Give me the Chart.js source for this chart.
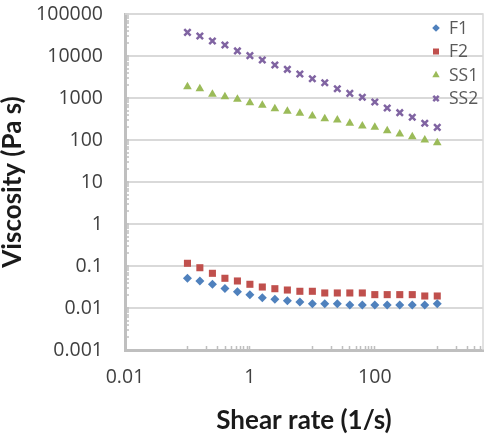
<!DOCTYPE html>
<html>
<head>
<meta charset="utf-8">
<script src="https://cdn.jsdelivr.net/npm/chart.js@4/dist/chart.umd.min.js"></script>
<style>
	html, body { margin: 0; padding: 0; background: #fff; }
	#wrap { width: 490px; height: 436px; }
</style>
</head>
<body>
<div id="wrap"><canvas id="viscChart" width="490" height="436"></canvas></div>
<script>
// shear rate (1/s), shared by all four samples
const shearRate = [0.1, 0.158, 0.251, 0.398, 0.631, 1, 1.58, 2.51, 3.98, 6.31, 10, 15.8, 25.1, 39.8, 63.1, 100, 158, 251, 398, 631, 1000];

// viscosity (Pa s)
const F1 = [0.051, 0.044, 0.037, 0.029, 0.0244, 0.0208, 0.0176, 0.0161, 0.0149, 0.0139, 0.0127, 0.0127, 0.0127, 0.0118, 0.0118, 0.0118, 0.0118, 0.0118, 0.0118, 0.0118, 0.0127];
const F2 = [0.116, 0.091, 0.067, 0.051, 0.044, 0.0367, 0.0316, 0.0288, 0.0268, 0.025, 0.025, 0.0228, 0.0228, 0.0228, 0.0228, 0.0208, 0.0208, 0.0208, 0.0208, 0.0193, 0.0193];
const SS1 = [1860, 1660, 1220, 1070, 930, 773, 670, 556, 482, 432, 373, 321, 299, 250, 215, 200, 166, 139, 120, 100, 86];
const SS2 = [36600, 29900, 22700, 18300, 13200, 10200, 8030, 6110, 4820, 3730, 2880, 2310, 1660, 1290, 1040, 803, 578, 447, 347, 250, 200];

const seriesNames = ['F1', 'F2', 'SS1', 'SS2'];

// axis ticks (x axis is log base 100, as in the original)
const xMajorTicks = [0.01, 1, 100];
const xTickLabels = ['0.01', '1', '100'];
const xMinorTicks = [0.1, 0.2, 0.3, 0.4, 0.5, 0.6, 0.7, 0.8, 0.9, 10, 20, 30, 40, 50, 60, 70, 80, 90, 1000, 2000, 3000, 4000, 5000];
const yMajorTicks = [0.001, 0.01, 0.1, 1, 10, 100, 1000, 10000, 100000];
const yTickLabels = ['0.001', '0.01', '0.1', '1', '10', '100', '1000', '10000', '100000'];

(function(){
	const FONT = '"Open Sans", Lato, sans-serif';
	const TITLE_FONT = 'Lato, "Open Sans", sans-serif';
	const GRID = '#D9D9D9';
	const AXIS = '#BFBFBF';

	function pts(ys){
		return ys.map((y, i) => ({x: shearRate[i], y: y}));
	}

	function isMajor(list, v){
		return list.some(m => Math.abs(m - v) / m < 1e-6);
	}

	const yMinorTicks = [];
	yMajorTicks.slice(0, -1).forEach(m => { for(let k=2; k<=9; k++) yMinorTicks.push(m * k); });

	// legend sits inside the plot area, top right
	const insideLegend = {
		id: 'insideLegend',
		afterDatasetsDraw(chart){
			const ctx = chart.ctx;
			const area = chart.chartArea;
			ctx.save();
			// plot area frame (top/right)
			ctx.strokeStyle = GRID;
			ctx.lineWidth = 1.5;
			ctx.beginPath();
			ctx.moveTo(area.left, area.top);
			ctx.lineTo(area.right, area.top);
			ctx.lineTo(area.right, area.bottom);
			ctx.stroke();
			chart.data.datasets.forEach((ds, i) => {
				const y = area.top + 14 + i * 23.5;
				const x = area.right - 47;
				ctx.fillStyle = ds.backgroundColor;
				ctx.strokeStyle = ds.borderColor;
				ctx.lineWidth = ds.borderWidth;
				Chart.helpers.drawPoint(ctx, {pointStyle: ds.pointStyle, radius: ds.pointRadius * 0.85, borderWidth: ds.borderWidth, rotation: 0}, x, y);
				ctx.fillStyle = '#595959';
				ctx.font = '17.5px ' + FONT;
				ctx.textAlign = 'left';
				ctx.textBaseline = 'middle';
				ctx.fillText(ds.label, x + 13, y + 1);
			});
			ctx.restore();
		}
	};

	const ctx = document.getElementById('viscChart').getContext('2d');
	new Chart(ctx, {
		type: 'scatter',
		data: {
			datasets: [
				{ label: seriesNames[0], data: pts(F1), pointStyle: 'rectRot', pointRadius: 4.5, backgroundColor: '#4F81BD', borderColor: '#4F81BD', borderWidth: 0 },
				{ label: seriesNames[1], data: pts(F2), pointStyle: 'rect', pointRadius: 5, backgroundColor: '#C0504D', borderColor: '#C0504D', borderWidth: 0 },
				{ label: seriesNames[2], data: pts(SS1), pointStyle: 'triangle', pointRadius: 5, backgroundColor: '#9BBB59', borderColor: '#9BBB59', borderWidth: 0 },
				{ label: seriesNames[3], data: pts(SS2), pointStyle: 'crossRot', pointRadius: 4.5, backgroundColor: '#8064A2', borderColor: '#8064A2', borderWidth: 2.5 }
			]
		},
		options: {
			responsive: false,
			animation: false,
			layout: { padding: { left: 0, right: 7, top: 14, bottom: 0 } },
			plugins: {
				legend: { display: false },
				tooltip: { enabled: false }
			},
			scales: {
				x: {
					type: 'logarithmic',
					min: 0.01,
					max: 5400,
					afterBuildTicks(scale){
						scale.ticks = xMajorTicks.concat(xMinorTicks).sort((a, b) => a - b).map(v => ({value: v}));
					},
					afterFit(scale){
						scale.height = 86;
						scale.paddingLeft = 0;
						scale.paddingRight = 0;
					},
					border: { color: AXIS, width: 3 },
					grid: {
						color: 'rgba(0,0,0,0)',
						tickColor: AXIS,
						tickLength: -4,
						tickWidth: 1.5
					},
					ticks: {
						autoSkip: false,
						maxRotation: 0,
						padding: 20,
						color: '#404040',
						font: { family: FONT, size: 19.5 },
						callback(v){
							const i = xMajorTicks.findIndex(m => Math.abs(m - v) / m < 1e-6);
							return i >= 0 ? xTickLabels[i] : '';
						}
					},
					title: {
						display: true,
						text: 'Shear rate (1/s)',
						color: '#1a1a1a',
						font: { family: TITLE_FONT, size: 26, weight: 'bold' },
						padding: { top: 0, bottom: 0 }
					}
				},
				y: {
					type: 'logarithmic',
					min: 0.001,
					max: 100000,
					afterBuildTicks(scale){
						scale.ticks = yMajorTicks.concat(yMinorTicks).sort((a, b) => a - b).map(v => ({value: v}));
					},
					afterFit(scale){
						scale.width = 125;
						scale.paddingTop = 0;
						scale.paddingBottom = 0;
					},
					border: { color: AXIS, width: 3 },
					grid: {
						color: c => isMajor(yMajorTicks, c.tick.value) ? GRID : 'rgba(0,0,0,0)',
						lineWidth: 2,
						tickColor: AXIS,
						tickLength: -4,
						tickWidth: 1.5
					},
					ticks: {
						autoSkip: false,
						padding: 26,
						color: '#404040',
						font: { family: FONT, size: 19.5 },
						callback(v){
							const i = yMajorTicks.findIndex(m => Math.abs(m - v) / m < 1e-6);
							return i >= 0 ? yTickLabels[i] : '';
						}
					},
					title: {
						display: true,
						text: 'Viscosity (Pa s)',
						color: '#1a1a1a',
						font: { family: TITLE_FONT, size: 26, weight: 'bold' },
						padding: { top: -3, bottom: 0 }
					}
				}
			}
		},
		plugins: [insideLegend]
	});
})();
</script>
</body>
</html>
